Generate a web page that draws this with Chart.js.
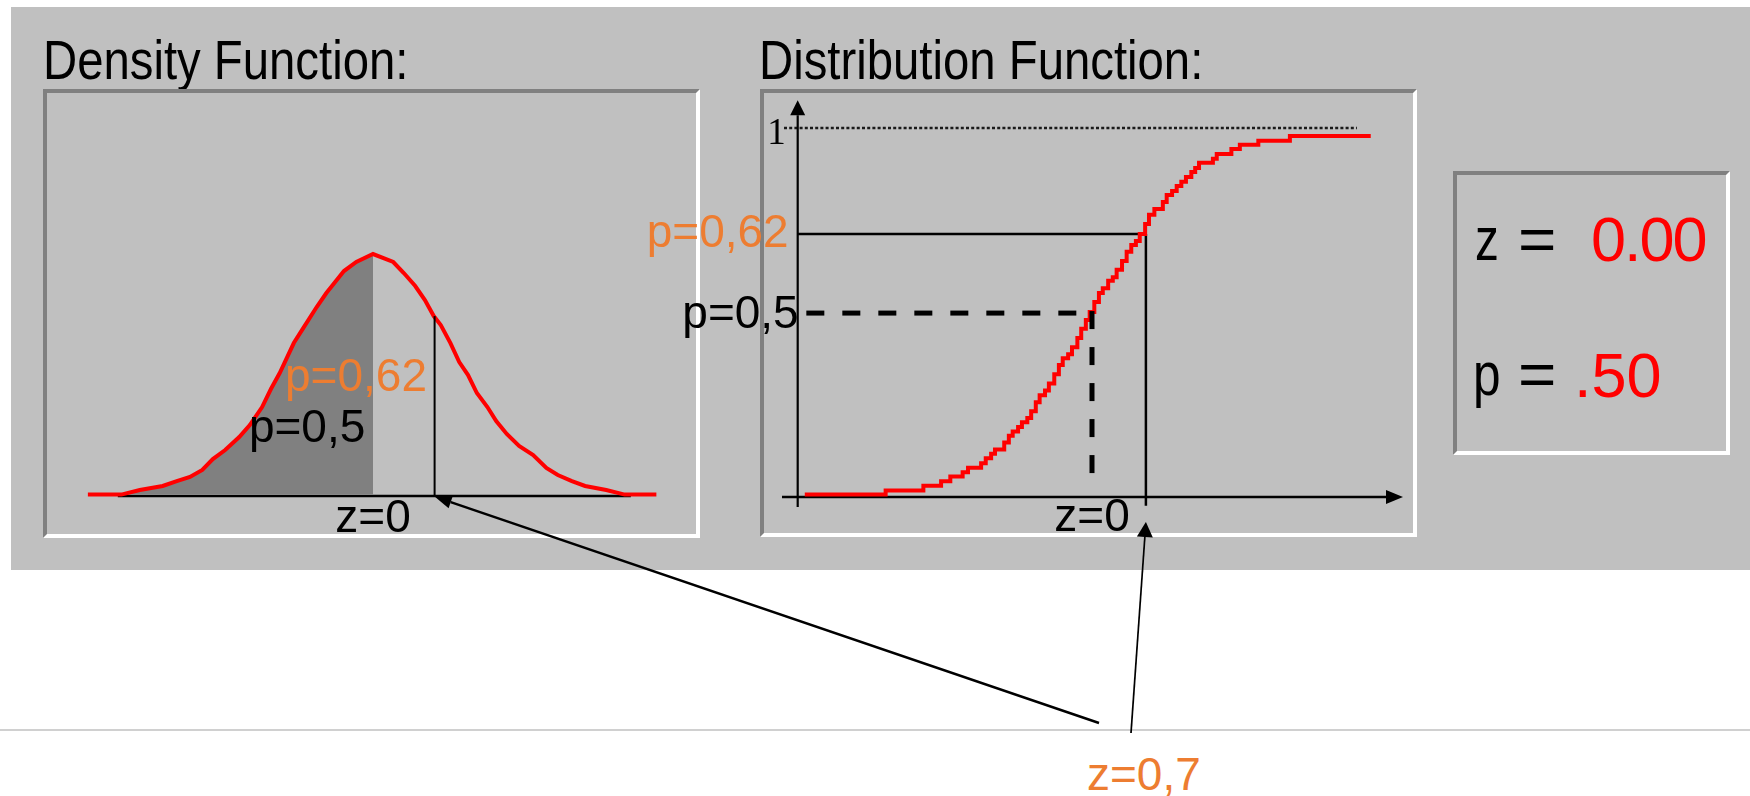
<!DOCTYPE html>
<html>
<head>
<meta charset="utf-8">
<script src="https://cdn.jsdelivr.net/npm/chart.js@4/dist/chart.umd.min.js"></script>
<style>
  body { margin: 0; width: 1750px; height: 796px; background: #fff; position: relative; overflow: hidden; font-family: "Liberation Sans", Arial, sans-serif; }
  .panel { position: absolute; left: 11px; top: 7px; width: 1739px; height: 563px; background: #c0c0c0; }
  .box { position: absolute; box-sizing: border-box; background: #c0c0c0;
         border-top: 4px solid #808080; border-left: 4px solid #808080;
         border-right: 4px solid #fff; border-bottom: 4px solid #fff; }
  .title { position: absolute; font-size: 55px; line-height: 1; color: #000; white-space: nowrap; transform: scaleX(0.86); transform-origin: 0 0; }
  .t { position: absolute; line-height: 1; white-space: nowrap; transform-origin: 0 0; }
  .sep { position: absolute; left: 0; top: 729px; width: 1750px; height: 2px; background: #d0d0d0; }
  canvas { position: absolute; left: 0; top: 0; pointer-events: none; }
</style>
</head>
<body>
<div class="panel"></div>
<div class="title" style="left:43px; top:33px">Density Function:</div>
<div class="title" style="left:759px; top:33px">Distribution Function:</div>
<div class="box" style="left:43px; top:89px; width:657px; height:449px"></div>
<div class="box" style="left:760px; top:89px; width:657px; height:448px"></div>
<div class="box" style="left:1453px; top:171px; width:277px; height:284px"></div>

<div class="t" style="left:1475px; top:208px; font-size:62px; transform:scaleX(0.77)">z</div>
<div class="t" style="left:1518px; top:208px; font-size:62px; transform:scaleX(1.06)">=</div>
<div class="t" style="left:1591px; top:208px; font-size:63px; color:#ff0000; letter-spacing:-2px" id="zval"></div>
<div class="t" style="left:1473px; top:343px; font-size:62px; transform:scaleX(0.8)">p</div>
<div class="t" style="left:1518px; top:343px; font-size:62px; transform:scaleX(1.06)">=</div>
<div class="t" style="left:1574px; top:344px; font-size:63px; color:#ff0000" id="pval"></div>

<div class="sep"></div>
<div class="t" style="left:1087px; top:751px; font-size:46px; color:#ed7d31" id="zlabel"></div>

<canvas id="dens" width="1750" height="796"></canvas>
<canvas id="dist" width="1750" height="796"></canvas>

<script>
// density curve (z, density)
const pdfZ = [-3.24, -2.86, -2.65, -2.39, -2.23, -2.08, -1.94, -1.82, -1.68, -1.52, -1.40, -1.26, -1.16, -1.06,
  -0.90, -0.80, -0.64, -0.53, -0.43, -0.33, -0.19, 0, 0.23, 0.35, 0.48, 0.59, 0.69, 0.77, 0.88, 0.98, 1.08,
  1.18, 1.30, 1.40, 1.52, 1.66, 1.82, 1.97, 2.10, 2.26, 2.41, 2.65, 2.86, 3.22];
const pdfVal = [0, 0, 0.0076, 0.0143, 0.0225, 0.0292, 0.0408, 0.0590, 0.0739, 0.0955, 0.1154, 0.1452, 0.1751, 0.2016,
  0.2513, 0.2745, 0.3110, 0.3343, 0.3525, 0.3707, 0.3857, 0.3989, 0.3857, 0.3674, 0.3459, 0.3226, 0.2961, 0.2812, 0.2513, 0.2198, 0.1983,
  0.1684, 0.1452, 0.1220, 0.1005, 0.0806, 0.0657, 0.0441, 0.0325, 0.0225, 0.0143, 0.0076, 0, 0];

// distribution curve, start of each step (z, p)
const cdfZ = [-3.73, -2.68, -2.19, -1.96, -1.84, -1.68, -1.61, -1.44, -1.38, -1.31, -1.26, -1.14, -1.08, -1.03, -0.96,
  -0.91, -0.84, -0.79, -0.73, -0.68, -0.61, -0.56, -0.49, -0.43, -0.38, -0.31, -0.26, -0.19, -0.14, -0.08, -0.03,
  0.03, 0.09, 0.14, 0.21, 0.27, 0.32, 0.39, 0.45, 0.51, 0.57, 0.62, 0.69, 0.74, 0.81, 0.92, 0.97, 1.04, 1.10,
  1.16, 1.22, 1.29, 1.34, 1.39, 1.57, 1.62, 1.81, 1.92, 2.16, 2.57, 3.62];
const cdfP = [0, 0.011, 0.024, 0.036, 0.049, 0.061, 0.073, 0.085, 0.099, 0.111, 0.123, 0.142, 0.160, 0.172, 0.184,
  0.197, 0.209, 0.227, 0.252, 0.271, 0.284, 0.303, 0.328, 0.353, 0.372, 0.383, 0.402, 0.427, 0.452, 0.476, 0.498,
  0.525, 0.550, 0.563, 0.583, 0.593, 0.613, 0.637, 0.662, 0.681, 0.692, 0.711, 0.738, 0.763, 0.779, 0.798, 0.817,
  0.828, 0.842, 0.853, 0.866, 0.880, 0.891, 0.905, 0.916, 0.929, 0.943, 0.954, 0.965, 0.978, 0.978];

const zMark = 0.7;          // z=0,7
const pdfAtMark = 0.296;    // height of the curve at z=0,7
const pAtMark = 0.711;      // "p=0,62" level on the distribution curve
const pHalf = 0.495;        // "p=0,5" level
const zReadout = '0.00';
const pReadout = '.50';
const labelZ = 'z=0,7';

const RED = '#ff0000';
const ORANGE = '#ed7d31';
const FONT = '46px "Liberation Sans", Arial, sans-serif';

document.getElementById('zval').textContent = zReadout;
document.getElementById('pval').textContent = pReadout;
document.getElementById('zlabel').textContent = labelZ;

const pts = (xs, ys) => xs.map((x, i) => ({ x: x, y: ys[i] }));

function line(ctx, x0, y0, x1, y1) {
   ctx.beginPath();
   ctx.moveTo(x0, y0);
   ctx.lineTo(x1, y1);
   ctx.stroke();
}

function arrow(ctx, x0, y0, x1, y1, w, len, half) {
   const a = Math.atan2(y1 - y0, x1 - x0);
   const bx = x1 - len * Math.cos(a), by = y1 - len * Math.sin(a);
   ctx.lineWidth = w;
   line(ctx, x0, y0, bx, by);
   ctx.beginPath();
   ctx.moveTo(x1, y1);
   ctx.lineTo(bx + half * Math.sin(a), by - half * Math.cos(a));
   ctx.lineTo(bx - half * Math.sin(a), by + half * Math.cos(a));
   ctx.closePath();
   ctx.fill();
}

const common = {
   responsive: false,
   animation: false,
   devicePixelRatio: 1,
   plugins: { legend: { display: false }, tooltip: { enabled: false } },
   elements: { point: { radius: 0 }, line: { tension: 0 } }
};

// ---------- density ----------
const densPlugin = {
   id: 'densExtras',
   beforeDatasetsDraw(chart) {
      const { ctx, scales: { x, y } } = chart;
      ctx.save();
      ctx.strokeStyle = '#000';
      ctx.lineWidth = 2.5;
      line(ctx, x.getPixelForValue(-2.90), y.getPixelForValue(0) + 1.5, x.getPixelForValue(2.93), y.getPixelForValue(0) + 1.5);
      ctx.restore();
   },
   afterDatasetsDraw(chart) {
      const { ctx, scales: { x, y } } = chart;
      ctx.save();
      ctx.strokeStyle = '#000';
      ctx.lineWidth = 2;
      line(ctx, x.getPixelForValue(zMark), y.getPixelForValue(pdfAtMark), x.getPixelForValue(zMark), y.getPixelForValue(0) + 2);

      ctx.font = FONT;
      ctx.textBaseline = 'alphabetic';
      ctx.textAlign = 'left';
      ctx.fillStyle = ORANGE;
      ctx.fillText('p=0,62', x.getPixelForValue(-1.0), y.getPixelForValue(0.172));
      ctx.fillStyle = '#000';
      ctx.fillText('p=0,5', x.getPixelForValue(-1.41), y.getPixelForValue(0.087));
      ctx.textAlign = 'center';
      ctx.fillText('z=0', x.getPixelForValue(0), y.getPixelForValue(0) + 37);
      ctx.restore();
   }
};

const densChart = new Chart(document.getElementById('dens'), {
   type: 'line',
   data: {
      datasets: [{
         data: pts(pdfZ, pdfVal),
         borderColor: RED,
         borderWidth: 4,
         fill: false,
         order: 0
      }, {
         data: pts(pdfZ, pdfVal).filter(p => p.x <= 0),
         borderWidth: 0,
         backgroundColor: '#808080',
         fill: 'origin',
         order: 1
      }]
   },
   options: Object.assign({}, common, {
      layout: { padding: { left: 47, top: 93, right: 1055, bottom: 262 } },
      scales: {
         x: { type: 'linear', display: false, min: -3.7045, max: 3.659 },
         y: { display: false, min: -0.0653, max: 0.6659 }
      }
   }),
   plugins: [densPlugin]
});

// ---------- distribution ----------
const distPlugin = {
   id: 'distExtras',
   beforeDatasetsDraw(chart) {
      const { ctx, scales: { x, y } } = chart;
      ctx.save();
      ctx.strokeStyle = '#000';
      ctx.fillStyle = '#000';

      // dotted line at 1
      ctx.lineWidth = 2.5;
      ctx.strokeStyle = '#1a1a1a';
      ctx.setLineDash([3, 2.2]);
      line(ctx, x.getPixelForValue(-4.0), y.getPixelForValue(1), x.getPixelForValue(3.44), y.getPixelForValue(1));
      ctx.setLineDash([]);
      ctx.strokeStyle = '#000';

      // axes with arrow heads
      const ax = x.getPixelForValue(-3.822);
      arrow(ctx, ax, y.getPixelForValue(-0.034), ax, y.getPixelForValue(1.076), 2.2, 15, 7.5);
      const ay = y.getPixelForValue(-0.0068);
      arrow(ctx, x.getPixelForValue(-4.026), ay, x.getPixelForValue(4.039), ay, 2.5, 17, 7);

      // solid guide to p at z=0,7
      ctx.lineWidth = 2.5;
      const xm = x.getPixelForValue(zMark), ym = y.getPixelForValue(pAtMark);
      line(ctx, ax, ym, xm, ym);
      line(ctx, xm, ym, xm, y.getPixelForValue(-0.031));
      ctx.restore();
   },
   afterDatasetsDraw(chart) {
      const { ctx, scales: { x, y } } = chart;
      ctx.save();
      ctx.strokeStyle = '#000';
      ctx.fillStyle = '#000';

      // dashed guide at p=0,5
      ctx.lineWidth = 5;
      ctx.setLineDash([18, 18]);
      const yh = y.getPixelForValue(pHalf), x0 = x.getPixelForValue(0);
      line(ctx, x.getPixelForValue(-3.71), yh, x0, yh);
      line(ctx, x0, yh - 2, x0, y.getPixelForValue(0.053));
      ctx.setLineDash([]);

      // labels
      const ax = x.getPixelForValue(-3.822);
      ctx.font = '37px "Liberation Serif", "Times New Roman", serif';
      ctx.textAlign = 'right';
      ctx.textBaseline = 'alphabetic';
      ctx.fillText('1', ax - 12, y.getPixelForValue(1) + 16);

      ctx.font = FONT;
      ctx.fillStyle = ORANGE;
      ctx.fillText('p=0,62', ax - 9, y.getPixelForValue(pAtMark) + 13);
      ctx.fillStyle = '#000';
      ctx.fillText('p=0,5', ax + 1, yh + 15);
      ctx.textAlign = 'center';
      ctx.fillText('z=0', x0, y.getPixelForValue(0) + 37);

      // arrows from the "z=0,7" label
      const lx = 1088, lb = 790;
      const dx = densChart.scales.x.getPixelForValue(zMark);
      const dy = densChart.scales.y.getPixelForValue(0) + 2;
      arrow(ctx, lx + 11, lb - 67, dx, dy, 2.5, 17, 6.5);
      arrow(ctx, lx + 43, lb - 57, x.getPixelForValue(zMark), y.getPixelForValue(-0.075), 1.7, 15, 8);
      ctx.restore();
   }
};

new Chart(document.getElementById('dist'), {
   type: 'line',
   data: {
      datasets: [{
         data: pts(cdfZ, cdfP),
         borderColor: RED,
         borderWidth: 4,
         borderJoinStyle: 'miter',
         stepped: true,
         fill: false
      }]
   },
   options: Object.assign({}, common, {
      layout: { padding: { left: 763, top: 93, right: 338, bottom: 262 } },
      scales: {
         x: { type: 'linear', display: false, min: -4.2727, max: 4.1558 },
         y: { display: false, min: -0.1078, max: 1.0955 }
      }
   }),
   plugins: [distPlugin]
});
</script>
</body>
</html>
